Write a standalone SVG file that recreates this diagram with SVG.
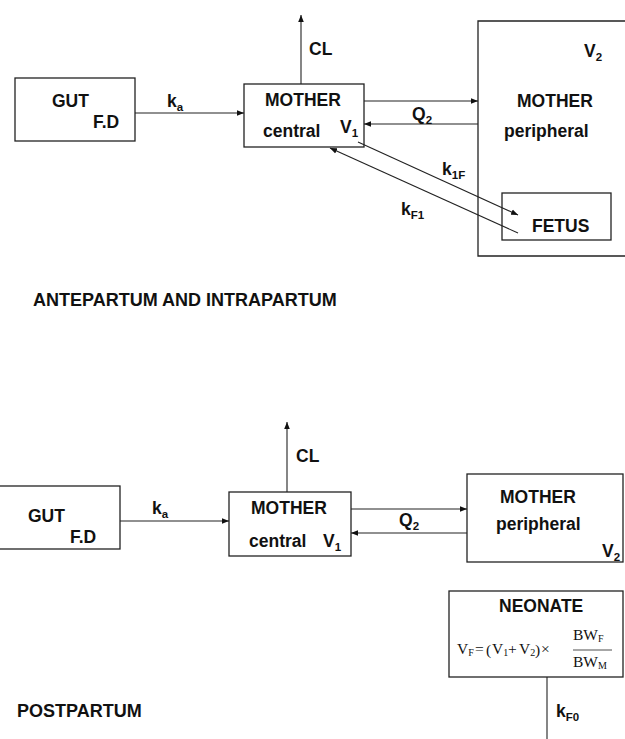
<svg xmlns="http://www.w3.org/2000/svg" width="625" height="739" viewBox="0 0 625 739">
<style>
.box{fill:#fff;stroke:#222;stroke-width:1.3}
.t{font-family:"Liberation Sans",Arial,sans-serif;font-weight:bold;font-size:17.5px;fill:#111}
.s{font-size:11.5px}
.h{font-family:"Liberation Sans",Arial,sans-serif;font-weight:bold;font-size:18px;fill:#111}
.ln{stroke:#222;stroke-width:1.1;fill:none}
.f{font-family:"Liberation Serif","Times New Roman",serif;font-size:15.5px;fill:#111}
.fs{font-size:10px}
</style>
<defs>
<marker id="ah" viewBox="0 0 10 10" refX="10" refY="5" markerWidth="7" markerHeight="7" markerUnits="userSpaceOnUse" orient="auto">
<path d="M0,1 L10,5 L0,9 z" fill="#111"/>
</marker>
</defs>

<g id="gut1">
<rect class="box" x="15" y="78" width="120" height="63"/>
<text class="t" x="52" y="107">GUT</text>
<text class="t" x="93" y="128">F.D</text>
</g>

<g id="central1">
<rect class="box" x="244" y="84" width="120" height="63"/>
<text class="t" x="265" y="106">MOTHER</text>
<text class="t" x="263" y="137">central</text>
<text class="t" x="340" y="133">V<tspan class="s" dy="4">1</tspan></text>
</g>

<g id="peripheral1">
<path class="box" d="M626,21 H478 V256 H626"/>
<text class="t" x="517" y="107">MOTHER</text>
<text class="t" x="504" y="137">peripheral</text>
<text class="t" x="584" y="57">V<tspan class="s" dy="4">2</tspan></text>
</g>

<g id="fetus">
<rect class="box" x="502" y="193" width="109" height="47"/>
<text class="t" x="532" y="232">FETUS</text>
</g>

<g id="title1">
<text class="h" x="33" y="306">ANTEPARTUM AND INTRAPARTUM</text>
</g>

<g id="gut2">
<rect class="box" x="-2" y="486" width="122" height="63"/>
<text class="t" x="28" y="522">GUT</text>
<text class="t" x="70" y="543">F.D</text>
</g>

<g id="central2">
<rect class="box" x="229" y="492" width="122" height="64"/>
<text class="t" x="251" y="514">MOTHER</text>
<text class="t" x="249" y="547">central</text>
<text class="t" x="323" y="547">V<tspan class="s" dy="4">1</tspan></text>
</g>

<g id="peripheral2">
<rect class="box" x="467" y="474" width="156" height="88"/>
<text class="t" x="500" y="503">MOTHER</text>
<text class="t" x="496" y="530">peripheral</text>
<text class="t" x="602" y="557">V<tspan class="s" dy="4">2</tspan></text>
</g>

<g id="neonate">
<rect class="box" x="449" y="591" width="174" height="86"/>
<text class="t" x="499" y="612">NEONATE</text>
<text class="f" x="457" y="654">V<tspan class="fs" dy="2">F</tspan></text>
<text class="f" x="475" y="654">=</text>
<text class="f" x="486" y="655" font-size="19">(</text>
<text class="f" x="492" y="654">V<tspan class="fs" dy="2">1</tspan></text>
<text class="f" x="508" y="654">+</text>
<text class="f" x="519" y="654">V<tspan class="fs" dy="2">2</tspan></text>
<text class="f" x="535" y="655" font-size="19">)</text>
<text class="f" x="541" y="654">×</text>
<text class="f" x="573" y="640">BW<tspan class="fs" dy="2">F</tspan></text>
<line x1="573" y1="650" x2="612" y2="650" stroke="#222" stroke-width="0.8"/>
<text class="f" x="573" y="667">BW<tspan class="fs" dy="2">M</tspan></text>
</g>

<g id="title2">
<text class="h" x="17" y="717">POSTPARTUM</text>
</g>

<g id="connectors">
<line class="ln" x1="135" y1="113" x2="244" y2="113" marker-end="url(#ah)"/>
<line class="ln" x1="301" y1="84" x2="301" y2="15" marker-end="url(#ah)"/>
<line class="ln" x1="364" y1="101" x2="478" y2="101" marker-end="url(#ah)"/>
<line class="ln" x1="478" y1="124" x2="364" y2="124" marker-end="url(#ah)"/>
<line class="ln" x1="358" y1="142" x2="518" y2="215" marker-end="url(#ah)"/>
<line class="ln" x1="518" y1="233" x2="330" y2="148" marker-end="url(#ah)"/>
<line class="ln" x1="120" y1="521" x2="229" y2="521" marker-end="url(#ah)"/>
<line class="ln" x1="287" y1="492" x2="287" y2="422" marker-end="url(#ah)"/>
<line class="ln" x1="351" y1="509" x2="467" y2="509" marker-end="url(#ah)"/>
<line class="ln" x1="467" y1="533" x2="351" y2="533" marker-end="url(#ah)"/>
<line class="ln" x1="547" y1="677" x2="547" y2="739"/>
<text class="t" x="167" y="107">k<tspan class="s" dy="4">a</tspan></text>
<text class="t" x="309" y="55">CL</text>
<text class="t" x="412" y="120">Q<tspan class="s" dy="4">2</tspan></text>
<text class="t" x="442" y="175">k<tspan class="s" dy="4">1F</tspan></text>
<text class="t" x="401" y="215">k<tspan class="s" dy="4">F1</tspan></text>
<text class="t" x="152" y="514">k<tspan class="s" dy="4">a</tspan></text>
<text class="t" x="296" y="462">CL</text>
<text class="t" x="399" y="526">Q<tspan class="s" dy="4">2</tspan></text>
<text class="t" x="556" y="717">k<tspan class="s" dy="4">F0</tspan></text>
</g>
</svg>
